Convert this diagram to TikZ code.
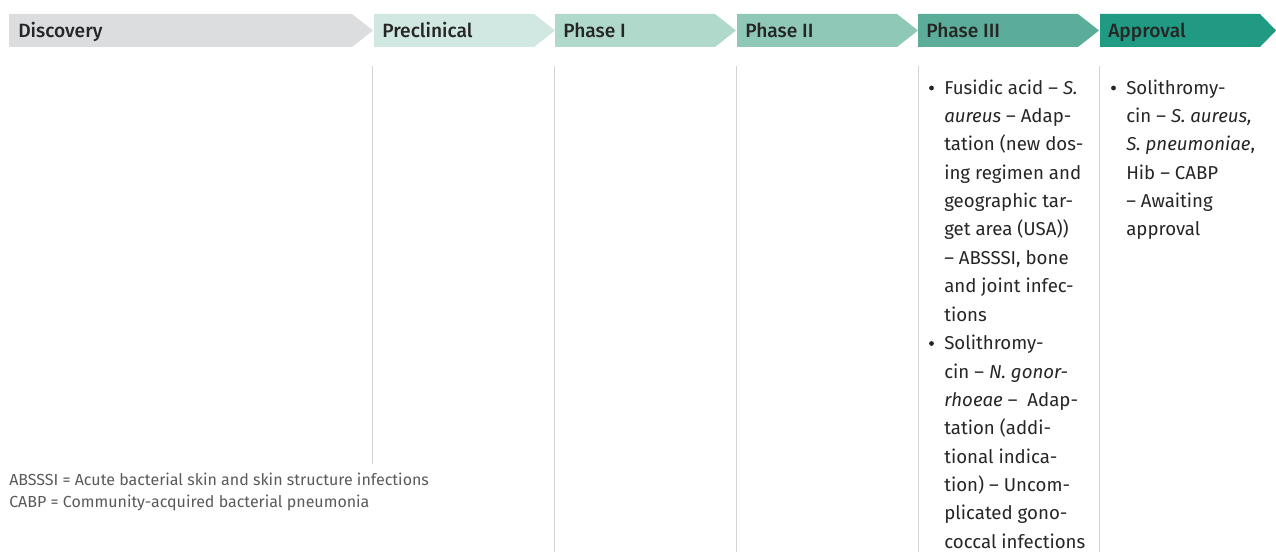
\documentclass[tikz,border=0pt]{standalone}
\usepackage{fontspec}
\setmainfont{Fira Sans}[BoldFont={Fira Sans Medium}]
\usepackage{tikz}
\usetikzlibrary{positioning}
\definecolor{discGray}{HTML}{DCDDDF}
\definecolor{preTeal}{HTML}{D0E8E1}
\definecolor{phOneTeal}{HTML}{B0D9CC}
\definecolor{phTwoTeal}{HTML}{8FC8B6}
\definecolor{phThreeTeal}{HTML}{5BAC98}
\definecolor{apprTeal}{HTML}{219A84}
\definecolor{inkDark}{HTML}{262626}
\definecolor{inkNote}{HTML}{5A5A5A}
\definecolor{sepGray}{HTML}{D4D4D4}
\tikzstyle{stagelabel} = [anchor=base west, inner sep=0pt, text=inkDark, font=\fontsize{14.4}{16}\selectfont\bfseries]
\tikzstyle{entry} = [anchor=north west, inner sep=0pt, align=left, text=inkDark, font=\fontsize{14}{21.28}\selectfont]
\tikzstyle{itemdot} = [circle, fill=inkDark, inner sep=0pt, minimum size=3.6pt]
\tikzstyle{note} = [anchor=base west, inner sep=0pt, text=inkNote, font=\fontsize{12}{14}\selectfont]
\tikzstyle{colsep} = [draw=sepGray, line width=0.6pt]

\begin{document}
\begin{tikzpicture}[x=0.75pt, y=-0.75pt]
  \useasboundingbox (0,0) rectangle (1276,552);

  % stage banner
  \fill[discGray] (9,14) -- (352,14) -- (373,30.5) -- (352,47) -- (9,47) -- cycle;
  \foreach \x/\col in {374/preTeal, 555/phOneTeal, 737/phTwoTeal, 918/phThreeTeal}
    \fill[\col] (\x,14) -- ({\x+160},14) -- ({\x+181},30.5) -- ({\x+160},47) -- (\x,47) -- cycle;
  \fill[apprTeal] (1100,14) -- (1260,14) -- (1276,30.5) -- (1260,47) -- (1100,47) -- cycle;

  \node[stagelabel] (discovery) at (18,38) {Discovery};
  \node[stagelabel] (preclinical) at (382,38) {Preclinical};
  \node[stagelabel] (phaseone) at (563,38) {Phase I};
  \node[stagelabel] (phasetwo) at (745,38) {Phase II};
  \node[stagelabel] (phasethree) at (926,38) {Phase III};
  \node[stagelabel] (approval) at (1108,38) {Approval};

  % column rules
  \draw[colsep] (372.5,66) -- (372.5,464);
  \foreach \x in {554.5, 736.5, 918, 1099.5}
    \draw[colsep] (\x,66) -- (\x,552);

  % phase III
  \node[entry] (fusidic) at (944,74) {\strut Fusidic acid -- \textit{S.}\\
    \textit{aureus} -- Adap-\\
    tation (new dos-\\
    ing regimen and\\
    geographic tar-\\
    get area (USA))\\
    -- ABSSSI, bone\\
    and joint infec-\\
    tions};
  \node[entry] (solgono) at (944,329.5) {\strut Solithromy-\\
    cin -- \textit{N. gonor-}\\
    \textit{rhoeae} --\ \ Adap-\\
    tation (addi-\\
    tional indica-\\
    tion) -- Uncom-\\
    plicated gono-\\
    coccal infections};
  \node[itemdot] (dotfusidic) at (931.5,88) {};
  \node[itemdot] (dotsolgono) at (931.5,343.5) {};

  % approval
  \node[entry] (solcabp) at (1126,74) {\strut Solithromy-\\
    cin -- \textit{S. aureus,}\\
    \textit{S. pneumoniae},\\
    Hib -- CABP\\
    -- Awaiting\\
    approval};
  \node[itemdot] (dotsolcabp) at (1113.5,88) {};

  % abbreviations
  \node[note] (absssi) at (9,485) {ABSSSI = Acute bacterial skin and skin structure infections};
  \node[note] (cabp) at (9,507) {CABP = Community-acquired bacterial pneumonia};
\end{tikzpicture}
\end{document}
